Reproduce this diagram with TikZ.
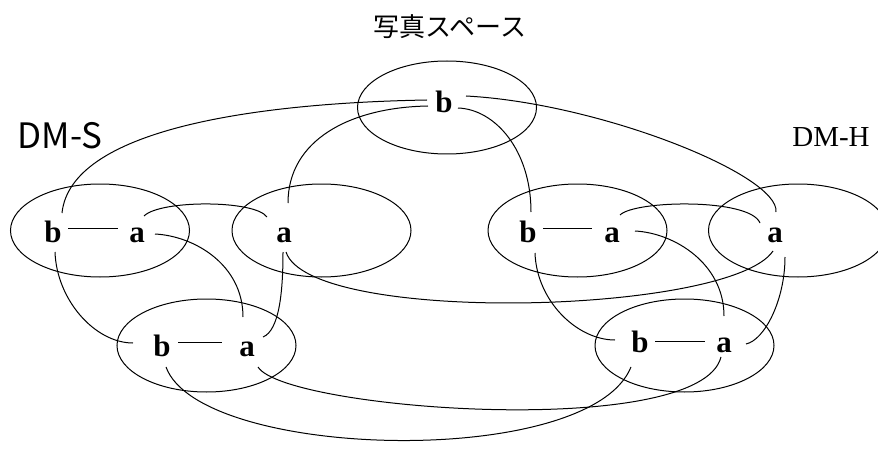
\documentclass[tikz,border=0pt]{standalone}
\usepackage{fontspec}
\setmainfont{Liberation Serif}
\newfontfamily\jpfont{Noto Sans CJK JP}
\usepackage{tikz}
\usetikzlibrary{calc,shapes.geometric}

\begin{document}
\begin{tikzpicture}[x=1pt, y=1pt, line width=1pt,
  grp/.style={draw, ellipse, minimum width=179pt, minimum height=93pt, inner sep=0pt},
  lt/.style={inner sep=0pt, font=\bfseries\fontsize{31}{31}\selectfont, text height=28pt, text depth=0pt}]
  \useasboundingbox (0,0) rectangle (878,448);
  % ---- titles ----
  \node[font=\jpfont\fontsize{26}{26}\selectfont] (ttl) at (450,421) {写真スペース};
  \node[font=\jpfont\fontsize{35}{35}\selectfont] (dms) at (60,312.5) {DM-S};
  \node[font=\fontsize{29}{29}\selectfont] (dmh) at (831,311) {DM-H};
  % ---- groups ----
  \node[grp] (gP) at (447,340.5) {};
  \node[grp] (gS1) at (100,217.5) {};
  \node[grp] (gS2) at (321.5,217.5) {};
  \node[grp] (gS3) at (206.5,102.5) {};
  \node[grp] (gH1) at (577.5,217.5) {};
  \node[grp] (gH2) at (798,217.5) {};
  \node[grp] (gH3) at (684.5,102.5) {};
  % ---- letters ----
  \node[lt] (pb) at (444,349) {b};
  \node[lt] (sb) at (53,220) {b};
  \node[lt] (sa) at (137,220) {a};
  \node[lt] (sa2) at (284,220) {a};
  \node[lt] (lb) at (162,106) {b};
  \node[lt] (la) at (247,106) {a};
  \node[lt] (hb) at (528,220) {b};
  \node[lt] (ha) at (612,220) {a};
  \node[lt] (ha2) at (775,220) {a};
  \node[lt] (rb) at (640,110) {b};
  \node[lt] (ra) at (724,110) {a};
  % ---- b -- a inside a group ----
  \draw ($(sb)+(15,0)$) -- ($(sa)+(-19,0)$);
  \draw ($(hb)+(15,0)$) -- ($(ha)+(-20,0)$);
  \draw ($(lb)+(16,0)$) -- ($(la)+(-25,0)$);
  \draw ($(rb)+(15,-3)$) -- ($(ra)+(-19,-3)$);
  % ---- from the photo b ----
  \draw ($(pb)+(-17,-1)$) to[out=181, in=84, out distance=177pt, in distance=83pt] ($(sb)+(9,15)$);
  \draw ($(pb)+(-16,-7)$) to[out=181, in=90, out distance=78pt, in distance=63pt] ($(sa2)+(4,25)$);
  \draw ($(pb)+(14,-9)$) to[out=-2, in=90, out distance=37pt, in distance=62pt] ($(hb)+(3,16)$);
  \draw ($(pb)+(22,3)$) to[out=-3, in=84, out distance=134pt, in distance=37pt] ($(ha2)+(1,16)$);
  % ---- DM-S side ----
  \draw ($(sa)+(7,12)$) to[out=45, in=125, out distance=23pt, in distance=21pt] ($(sa2)+(-17,11)$);
  \draw ($(sa)+(18,-6)$) to[out=-3, in=90, out distance=40pt, in distance=52pt] ($(la)+(-4,25)$);
  \draw ($(sb)+(2,-24)$) to[out=-88, in=180, out distance=48pt, in distance=38pt] ($(lb)+(-29,-1)$);
  \draw ($(sa2)+(-1,-24)$) to[out=-90, in=22, out distance=38pt, in distance=18pt] ($(la)+(16,5)$);
  % ---- DM-H side ----
  \draw ($(ha)+(8,13)$) to[out=45, in=112, out distance=21pt, in distance=27pt] ($(ha2)+(-15,5)$);
  \draw ($(ha)+(23,-3)$) to[out=-3, in=90, out distance=40pt, in distance=52pt] ($(ra)+(0,22)$);
  \draw ($(hb)+(7,-25)$) to[out=-88, in=180, out distance=48pt, in distance=38pt] ($(rb)+(-25,-2)$);
  \draw ($(ha2)+(10,-29)$) to[out=-90, in=12, out distance=43pt, in distance=19pt] ($(ra)+(22,-6)$);
  % ---- across ----
  \draw ($(sa2)+(2,-24)$) to[out=-72, in=-124, out distance=77pt, in distance=77pt] ($(ha2)+(-2,-23)$);
  \draw ($(la)+(11,-25)$) to[out=-58, in=-104, out distance=51pt, in distance=86pt] ($(ra)+(-3,-19)$);
  \draw ($(lb)+(4,-25)$) to[out=-70, in=-112, out distance=99pt, in distance=111pt] ($(rb)+(-9,-29)$);
\end{tikzpicture}
\end{document}
